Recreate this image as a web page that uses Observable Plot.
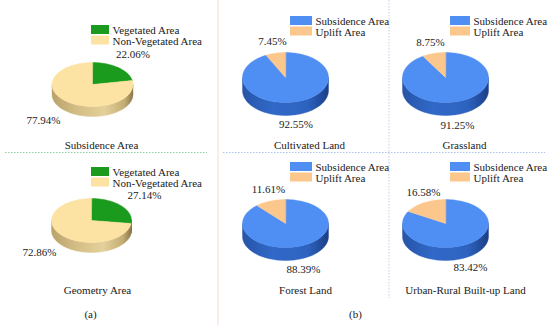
<!DOCTYPE html>
<html>
<head>
<meta charset="utf-8">
<script src="https://cdn.jsdelivr.net/npm/d3@7"></script>
<script src="https://cdn.jsdelivr.net/npm/@observablehq/plot@0.6"></script>
<style>
  html, body { margin: 0; padding: 0; background: #ffffff; }
</style>
</head>
<body>
<div id="chart"></div>
<script>
// ---------- DATA ----------
const panelTitles = ["Subsidence Area", "Geometry Area", "Cultivated Land", "Grassland", "Forest Land", "Urban-Rural Built-up Land"];
const panelGroup  = ["a", "a", "b", "b", "b", "b"];
// first slice (clockwise from 12 o'clock): Vegetated Area / Subsidence Area
const seriesA = [22.06, 27.14, 92.55, 91.25, 88.39, 83.42];
// second slice: Non-Vegetated Area / Uplift Area
const seriesB = [77.94, 72.86, 7.45, 8.75, 11.61, 16.58];
const legendA = ["Vegetated Area", "Non-Vegetated Area"];
const legendB = ["Subsidence Area", "Uplift Area"];
const groupLabels = ["(a)", "(b)"];

// ---------- STYLE / LAYOUT ----------
const W = 550, H = 325;
const topColor = {
  "Vegetated Area": "#1b9b1d",
  "Non-Vegetated Area": "#fde3a3",
  "Subsidence Area": "#4f8ef2",
  "Uplift Area": "#fcc78c"
};
const sideFill = {
  "Vegetated Area": "url(#side-green)",
  "Non-Vegetated Area": "url(#side-beige)",
  "Subsidence Area": "url(#side-blue)",
  "Uplift Area": "url(#side-peach)"
};
// per panel: pie centre / radii / depth, legend box, label anchors
const layout = [
  {cx: 92,  cy: 84,  rx: 40.5, ry: 22, h: 10, lx: 91,  lw: 18, ly: 25,  aPos: [132.5, 57], bPos: [43, 123],   tPos: [101, 148]},
  {cx: 91,  cy: 220, rx: 40,   ry: 22, h: 10, lx: 91,  lw: 18, ly: 167, aPos: [144, 198],  bPos: [39, 255],   tPos: [97, 293]},
  {cx: 285, cy: 77,  rx: 43,   ry: 25, h: 13, lx: 290, lw: 22, ly: 16,  aPos: [295.5, 127], bPos: [272, 44],  tPos: [309, 148]},
  {cx: 445, cy: 77,  rx: 43,   ry: 25, h: 13, lx: 450, lw: 20, ly: 16,  aPos: [457, 128],  bPos: [430, 45],   tPos: [464, 148]},
  {cx: 285, cy: 223, rx: 43,   ry: 24, h: 13, lx: 290, lw: 22, ly: 162, aPos: [303, 272],  bPos: [268, 192],  tPos: [305, 293]},
  {cx: 445, cy: 223, rx: 43,   ry: 24, h: 13, lx: 450, lw: 20, ly: 162, aPos: [470, 270],  bPos: [423, 195],  tPos: [465, 293]}
];
const groupLabelPos = [[90, 317], [355, 317]];
const dividersSolid = [{x: 217.5, y1: 0, y2: 325, stroke: "#f4dccb"}];
const dividersDotV  = [{x: 388.5, y1: 0, y2: 298, stroke: "#bcd0ee"}];
const dividersH = [
  {y: 152, x1: 5, x2: 207, stroke: "#8fd3a4"},
  {y: 152, x1: 223, x2: 545, stroke: "#a9c3ea"}
];

// ---------- GEOMETRY FROM DATA ----------
const rad = d => d * Math.PI / 180;
const tops = [], sides = [], swatches = [], legendText = [], labels = [];
panelTitles.forEach((title, i) => {
  const L = layout[i];
  const names = panelGroup[i] === "a" ? legendA : legendB;
  const vals = [seriesA[i], seriesB[i]];
  const total = d3.sum(vals);
  let start = 0;
  vals.forEach((v, j) => {
    const a0 = start, a1 = start + v / total * 360;
    start = a1;
    const name = names[j];
    const id = `p${i}s${j}`;
    const steps = Math.max(2, Math.ceil((a1 - a0) / 2));
    tops.push({id, x: L.cx, y: L.cy, fill: topColor[name]});
    for (let k = 0; k <= steps; k++) {
      const t = rad(a0 + (a1 - a0) * k / steps);
      tops.push({id, x: L.cx + L.rx * Math.sin(t), y: L.cy - L.ry * Math.cos(t), fill: topColor[name]});
    }
    const s0 = Math.max(a0, 90), s1 = Math.min(a1, 270);
    if (s1 > s0) {
      const n = Math.max(2, Math.ceil((s1 - s0) / 2));
      const upper = [], lower = [];
      for (let k = 0; k <= n; k++) {
        const t = rad(s0 + (s1 - s0) * k / n);
        const px = L.cx + L.rx * Math.sin(t), py = L.cy - L.ry * Math.cos(t);
        upper.push({id: id + "side", x: px, y: py, fill: sideFill[name]});
        lower.push({id: id + "side", x: px, y: py + L.h, fill: sideFill[name]});
      }
      sides.push(...upper, ...lower.reverse());
    }
    swatches.push({x1: L.lx, x2: L.lx + L.lw, y1: L.ly + j * 10.5, y2: L.ly + j * 10.5 + 9, fill: topColor[name]});
    legendText.push({x: L.lx + L.lw + 3, y: L.ly + j * 10.5 + 8.5, text: name});
  });
  labels.push({x: L.aPos[0], y: L.aPos[1], text: seriesA[i].toFixed(2) + "%"});
  labels.push({x: L.bPos[0], y: L.bPos[1], text: seriesB[i].toFixed(2) + "%"});
  labels.push({x: L.tPos[0], y: L.tPos[1], text: title});
});
groupLabels.forEach((g, i) => labels.push({x: groupLabelPos[i][0], y: groupLabelPos[i][1], text: g}));

// ---------- PLOT ----------
const font = "'Liberation Serif', 'Times New Roman', serif";
const svg = Plot.plot({
  width: W, height: H, margin: 0,
  x: {domain: [0, W], range: [0, W], axis: null},
  y: {domain: [0, H], range: [0, H], axis: null},
  color: {type: "identity"},
  style: {background: "#ffffff", fontFamily: font, fontSize: "11px", color: "#1a1a1a"},
  marks: [
    Plot.ruleX(dividersSolid, {x: "x", y1: "y1", y2: "y2", stroke: "stroke", strokeWidth: 1}),
    Plot.ruleX(dividersDotV, {x: "x", y1: "y1", y2: "y2", stroke: "stroke", strokeWidth: 1, strokeDasharray: "1.5,1.5"}),
    Plot.ruleY(dividersH, {y: "y", x1: "x1", x2: "x2", stroke: "stroke", strokeWidth: 1, strokeDasharray: "1.5,1.5"}),
    Plot.line(sides, {x: "x", y: "y", z: "id", fill: "fill", stroke: "fill", strokeWidth: 0.4, curve: "linear-closed"}),
    Plot.line(tops, {x: "x", y: "y", z: "id", fill: "fill", stroke: "fill", strokeWidth: 0.4, curve: "linear-closed"}),
    Plot.rect(swatches, {x1: "x1", x2: "x2", y1: "y1", y2: "y2", fill: "fill"}),
    Plot.text(legendText, {x: "x", y: "y", text: "text", textAnchor: "start", lineAnchor: "bottom", fill: "#1a1a1a", fontSize: 11, fontFamily: font}),
    Plot.text(labels, {x: "x", y: "y", text: "text", textAnchor: "middle", lineAnchor: "bottom", fill: "#1a1a1a", fontSize: 11, fontFamily: font})
  ]
});

const defs = d3.select(svg).insert("defs", ":first-child");
function grad(id, stops) {
  const g = defs.append("linearGradient").attr("id", id).attr("x1", "0").attr("x2", "1").attr("y1", "0").attr("y2", "0");
  stops.forEach(([o, c]) => g.append("stop").attr("offset", o).attr("stop-color", c));
}
grad("side-beige", [[0, "#b9a36a"], [0.3, "#d3bd84"], [0.65, "#e4d09a"], [0.9, "#c2ac73"], [1, "#8c7848"]]);
grad("side-green", [[0, "#137a15"], [1, "#0c5a0e"]]);
grad("side-blue",  [[0, "#2654a8"], [0.35, "#3169c8"], [0.75, "#2e63c0"], [1, "#1b3f88"]]);
grad("side-peach", [[0, "#d6a266"], [1, "#b98448"]]);

document.getElementById("chart").appendChild(svg);
</script>
</body>
</html>
